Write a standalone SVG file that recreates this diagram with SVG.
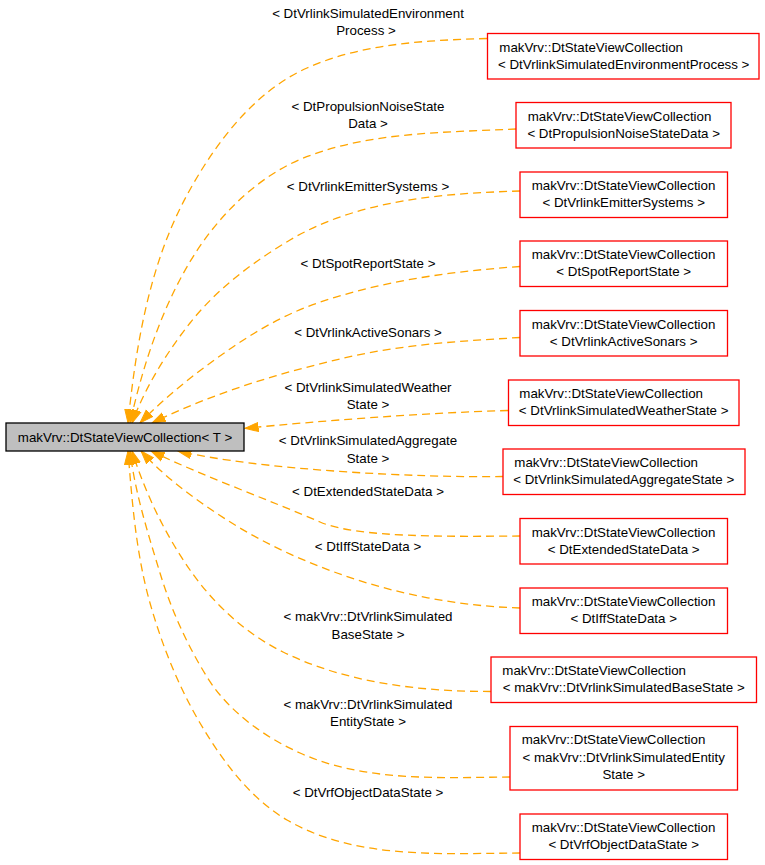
<svg xmlns="http://www.w3.org/2000/svg" width="765" height="865" viewBox="0 0 765 865">
<style>
text{font-family:"Liberation Sans",Arial,Helvetica,sans-serif;font-size:13.33px;fill:#000}
.m{text-anchor:middle}
.n rect{fill:#fff;stroke:#ff0000;stroke-width:1.3}
.root rect{fill:#bfbfbf;stroke:#000;stroke-width:1.3}
.e{fill:none;stroke:#ffa500;stroke-width:1.3;stroke-dasharray:8,5;marker-end:url(#arr)}
</style>
<defs>
<marker id="arr" markerUnits="userSpaceOnUse" viewBox="0 -6 15 12" refX="13.5" refY="0" markerWidth="15" markerHeight="12" orient="auto">
<path d="M0,-4.6 L13.5,0 L0,4.6 z" fill="#ffa500" stroke="#ffa500" stroke-width="1" stroke-dasharray="none"/>
</marker>
</defs>
<rect width="765" height="865" fill="#fff"/>
<g id="edges">
<path class="e" d="M487,38.5 C426.2,40.3 362.6,43.3 307,68 C253.8,91.6 214.8,143.9 187,195 C149.5,263.9 135.9,344.9 128,423"/>
<path class="e" d="M516,129 C445.7,132.5 372.4,131.6 306.7,156.7 C257.9,175.3 216.8,216.8 190,261.7 C160.6,311 142.5,367 130,423"/>
<path class="e" d="M520,191 C441.6,193.4 357.4,200 290,240 C252.8,262.1 216.8,289 190,323 C166.2,353.3 145.5,386.8 132,423"/>
<path class="e" d="M520,266.5 C451.3,271.3 381.9,280.8 316.7,303.3 C287.1,313.5 259.2,329.1 233.3,346.7 C200.1,369.3 168.1,394.3 140,423"/>
<path class="e" d="M520,337.5 C463,340.9 405.6,344.2 350,356.7 C282.1,372 214.6,392.4 152,423"/>
<path class="e" d="M508,410.5 C420,413 320,421 245,428.3"/>
<path class="e" d="M503,476.5 C420,478 260,470 178,451"/>
<path class="e" d="M520,536 C450,536.5 356.8,538 320,522 C269.4,500 202,475.75 151,451"/>
<path class="e" d="M520,608 C457.9,606.1 395.4,594.1 337,573 C298.7,559.2 261.3,542 227,520 C196,500.1 165.7,478.2 141,451"/>
<path class="e" d="M491,691.5 C420.4,691.5 346.5,683.1 283,652 C245.8,633.8 213.6,603.9 190,570 C164.8,533.8 145.2,492.9 132,451"/>
<path class="e" d="M510,777 C439.5,777.7 364.3,781.9 300,753 C263.5,736.6 228,711 207,677 C187,644.7 171,609.4 160,573 C147.8,532.9 135,492.5 130,451"/>
<path class="e" d="M520,853 C441.6,853.5 354.6,859.7 287,820 C249.6,798 222,760.4 200,723 C178.1,685.7 161.8,644.7 150,603 C136.1,553.7 132.1,502 128,451"/>
</g>
<g id="edge-labels">
<text class="m" x="368" y="18">&lt; DtVrlinkSimulatedEnvironment</text>
<text class="m" x="366" y="35">Process &gt;</text>
<text class="m" x="368" y="111">&lt; DtPropulsionNoiseState</text>
<text class="m" x="368" y="128">Data &gt;</text>
<text class="m" x="368" y="190.5">&lt; DtVrlinkEmitterSystems &gt;</text>
<text class="m" x="368" y="268">&lt; DtSpotReportState &gt;</text>
<text class="m" x="368" y="337">&lt; DtVrlinkActiveSonars &gt;</text>
<text class="m" x="368" y="392">&lt; DtVrlinkSimulatedWeather</text>
<text class="m" x="368" y="409">State &gt;</text>
<text class="m" x="368" y="445">&lt; DtVrlinkSimulatedAggregate</text>
<text class="m" x="368" y="462.5">State &gt;</text>
<text class="m" x="368" y="495.5">&lt; DtExtendedStateData &gt;</text>
<text class="m" x="368" y="551">&lt; DtIffStateData &gt;</text>
<text class="m" x="368" y="621">&lt; makVrv::DtVrlinkSimulated</text>
<text class="m" x="368" y="638.5">BaseState &gt;</text>
<text class="m" x="368" y="709">&lt; makVrv::DtVrlinkSimulated</text>
<text class="m" x="368" y="726">EntityState &gt;</text>
<text class="m" x="368" y="797">&lt; DtVrfObjectDataState &gt;</text>
</g>
<g id="root" class="root">
<rect x="6" y="423" width="238" height="28"/>
<text class="m" x="125" y="441.5">makVrv::DtStateViewCollection&lt; T &gt;</text>
</g>
<g id="n1" class="n"><rect x="487.5" y="33.5" width="271.5" height="45.5"/>
<text x="499.3" y="51.5">makVrv::DtStateViewCollection</text><text class="m" x="623.7" y="68.5">&lt; DtVrlinkSimulatedEnvironmentProcess &gt;</text></g>
<g id="n2" class="n"><rect x="516" y="102.5" width="215" height="45.5"/>
<text x="527.7" y="120.5">makVrv::DtStateViewCollection</text><text class="m" x="623.7" y="137.5">&lt; DtPropulsionNoiseStateData &gt;</text></g>
<g id="n3" class="n"><rect x="520" y="172" width="207.5" height="45.5"/>
<text x="531.7" y="190">makVrv::DtStateViewCollection</text><text class="m" x="623.7" y="207">&lt; DtVrlinkEmitterSystems &gt;</text></g>
<g id="n4" class="n"><rect x="520" y="241" width="207.5" height="45.5"/>
<text x="531.7" y="259">makVrv::DtStateViewCollection</text><text class="m" x="623.7" y="276">&lt; DtSpotReportState &gt;</text></g>
<g id="n5" class="n"><rect x="520" y="310.5" width="207.5" height="45.5"/>
<text x="531.7" y="328.5">makVrv::DtStateViewCollection</text><text class="m" x="623.7" y="345.5">&lt; DtVrlinkActiveSonars &gt;</text></g>
<g id="n6" class="n"><rect x="508.5" y="380" width="230.5" height="45.5"/>
<text x="519.3" y="398">makVrv::DtStateViewCollection</text><text class="m" x="623.7" y="415">&lt; DtVrlinkSimulatedWeatherState &gt;</text></g>
<g id="n7" class="n"><rect x="503" y="449" width="242" height="45.5"/>
<text x="514.3" y="467">makVrv::DtStateViewCollection</text><text class="m" x="623.7" y="484">&lt; DtVrlinkSimulatedAggregateState &gt;</text></g>
<g id="n8" class="n"><rect x="520" y="518.5" width="207.5" height="45.5"/>
<text x="531.7" y="536.5">makVrv::DtStateViewCollection</text><text class="m" x="623.7" y="553.5">&lt; DtExtendedStateData &gt;</text></g>
<g id="n9" class="n"><rect x="520" y="588" width="207.5" height="45.5"/>
<text x="531.7" y="606">makVrv::DtStateViewCollection</text><text class="m" x="623.7" y="623">&lt; DtIffStateData &gt;</text></g>
<g id="n10" class="n"><rect x="491" y="657" width="265.5" height="45.5"/>
<text x="502.3" y="675">makVrv::DtStateViewCollection</text><text class="m" x="623.7" y="692">&lt; makVrv::DtVrlinkSimulatedBaseState &gt;</text></g>
<g id="n11" class="n"><rect x="510" y="726.5" width="227.5" height="63.5"/>
<text x="521.7" y="744">makVrv::DtStateViewCollection</text><text class="m" x="623.7" y="761.5">&lt; makVrv::DtVrlinkSimulatedEntity</text><text class="m" x="623.7" y="779">State &gt;</text></g>
<g id="n12" class="n"><rect x="520" y="814" width="207.5" height="45.5"/>
<text x="531.7" y="832">makVrv::DtStateViewCollection</text><text class="m" x="623.7" y="849">&lt; DtVrfObjectDataState &gt;</text></g>
</svg>
